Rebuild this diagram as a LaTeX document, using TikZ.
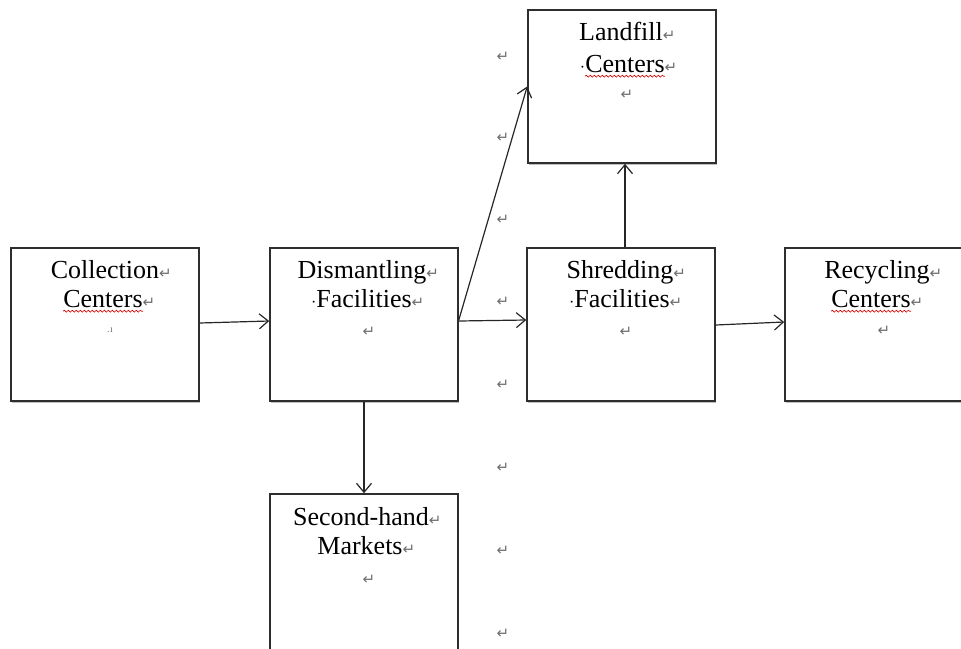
\documentclass[tikz,border=0pt]{standalone}
\usepackage{fontspec}
\setmainfont{Liberation Serif}
\newfontfamily\markfont{DejaVu Sans}
\usetikzlibrary{arrows.meta,calc,decorations.pathmorphing,shadows}

\definecolor{markgray}{HTML}{6E6E6E}
\definecolor{boxline}{HTML}{2E2E2E}
\definecolor{arrowline}{HTML}{262626}

% paragraph mark and visible-space dot
\newcommand{\pmark}{{\markfont\fontsize{15}{15}\selectfont\color{markgray}\symbol{"21B5}}}
\newcommand{\spdot}{\llap{{\fontsize{16}{16}\selectfont\textperiodcentered}}}

\begin{document}
\begin{tikzpicture}[x=1pt,y=-1pt,
  stagebox/.style={draw=boxline, line width=1.6pt, fill=white,
    minimum width=188pt, minimum height=153pt, inner sep=0pt,
    drop shadow={shadow xshift=1pt, shadow yshift=-2pt, opacity=0.25, fill=black}},
  lbl/.style={anchor=base, inner sep=0pt, font=\fontsize{26}{29}\selectfont, text=black},
  flow/.style={draw=arrowline, line width=1.2pt,
    -{Straight Barb[length=9pt,width=15pt]}},
  squiggle/.style={draw=red!85!black, line width=0.6pt,
    decorate, decoration={snake, segment length=4pt, amplitude=1pt}},
  loosemark/.style={inner sep=0pt}
]
\useasboundingbox (0,0) rectangle (961,648);

% boxes
\node[stagebox] (col) at (105,324.5) {};
\node[stagebox] (dis) at (364,324.5) {};
\node[stagebox] (land) at (622,86.5) {};
\node[stagebox] (shr) at (621,324.5) {};
\node[stagebox] (rec) at (879,324.5) {};
\node[stagebox, minimum height=158pt] (sec) at (364,573) {};

% labels
\node[lbl] (colA) at ($(col.north)+(0,31)$) {Collection\rlap{\pmark}};
\node[lbl] (colB) at ($(col.north)+(-2,60)$) {Centers\rlap{\pmark}};
\node[lbl, font=\fontsize{10}{10}\selectfont, text=markgray] (colC) at ($(col.north)+(5,85)$) {.\kern0.5ptı};

\node[lbl] (disA) at ($(dis.north)+(-2,31)$) {Dismantling\rlap{\pmark}};
\node[lbl] (disB) at ($(dis.north)+(0,60)$) {\spdot Facilities\rlap{\pmark}};
\node[loosemark] (disC) at ($(dis.north)+(5,85)$) {\pmark};

\node[lbl] (landA) at ($(land.north)+(-1,31)$) {Landfill\rlap{\pmark}};
\node[lbl] (landB) at ($(land.north)+(3,63)$) {\spdot Centers\rlap{\pmark}};
\node[loosemark] (landC) at ($(land.north)+(5,86)$) {\pmark};

\node[lbl] (shrA) at ($(shr.north)+(-1,31)$) {Shredding\rlap{\pmark}};
\node[lbl] (shrB) at ($(shr.north)+(1,60)$) {\spdot Facilities\rlap{\pmark}};
\node[loosemark] (shrC) at ($(shr.north)+(5,85)$) {\pmark};

\node[lbl] (recA) at ($(rec.north)+(-2,31)$) {Recycling\rlap{\pmark}};
\node[lbl] (recB) at ($(rec.north)+(-8,60)$) {Centers\rlap{\pmark}};
\node[loosemark] (recC) at ($(rec.north)+(5,84)$) {\pmark};

\node[lbl] (secA) at ($(sec.north)+(-3,32)$) {Second-hand\rlap{\pmark}};
\node[lbl] (secB) at ($(sec.north)+(-4,61)$) {Markets\rlap{\pmark}};
\node[loosemark] (secC) at ($(sec.north)+(5,87)$) {\pmark};

% spelling underlines
\draw[squiggle] ($(colB.base west)+(0,4)$) -- ($(colB.base east)+(0,4)$);
\draw[squiggle] ($(landB.base west)+(0,4)$) -- ($(landB.base east)+(0,4)$);
\draw[squiggle] ($(recB.base west)+(0,4)$) -- ($(recB.base east)+(0,4)$);

% column of empty paragraph marks
\foreach \yy [count=\i] in {57,138,220,302,385,468,551,634}
  \node[loosemark] (gap\i) at (503,\yy) {\pmark};

% flows
\draw[flow] ($(col.east)+(0,-1.5)$) -- ($(dis.west)+(0,-3.5)$);
\draw[flow] ($(dis.east)+(0,-4.5)$) -- (land.west);
\draw[flow] ($(dis.east)+(0,-3.5)$) -- ($(shr.west)+(0,-4.5)$);
\draw[flow] ($(shr.north)+(4,0)$) -- ($(land.south)+(3,0)$);
\draw[flow] ($(shr.east)+(0,0.5)$) -- ($(rec.west)+(0,-2.5)$);
\draw[flow] (dis.south) -- (sec.north);
\end{tikzpicture}
\end{document}
